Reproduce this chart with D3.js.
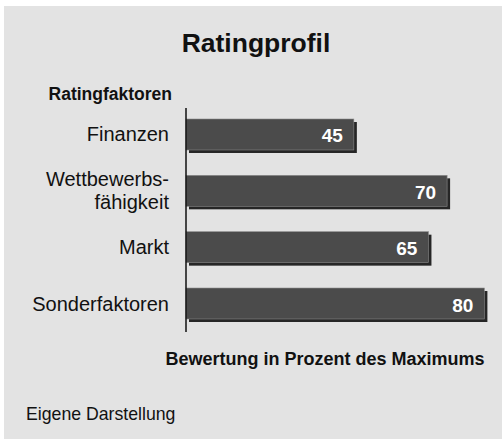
<!DOCTYPE html>
<html><head><meta charset="utf-8">
<script src="https://cdn.jsdelivr.net/npm/d3@7"></script>
<style>
html,body{margin:0;padding:0;background:#fff;}
svg{display:block;font-family:"Liberation Sans",Arial,Helvetica,sans-serif;}
</style></head>
<body>
<svg id="chart" width="502" height="439"></svg>
<script>
const categories = [["Finanzen"], ["Wettbewerbs-", "fähigkeit"], ["Markt"], ["Sonderfaktoren"]];
const categoryKeys = ["Finanzen", "Wettbewerbsfähigkeit", "Markt", "Sonderfaktoren"];
const values = [45, 70, 65, 80];
const title = "Ratingprofil";
const yAxisTitle = "Ratingfaktoren";
const xAxisTitle = "Bewertung in Prozent des Maximums";
const source = "Eigene Darstellung";

const svg = d3.select("#chart");
svg.append("rect").attr("x", 4).attr("y", 6).attr("width", 498).attr("height", 433).attr("fill", "#e3e3e3");

const x = d3.scaleLinear().domain([0, 100]).range([186, 559]);
const y = d3.scaleBand().domain(categoryKeys).range([107, 331]).paddingInner(0.45).paddingOuter(0.213);

svg.append("text").attr("x", 256).attr("y", 52).attr("text-anchor", "middle")
  .attr("font-size", 26.5).attr("font-weight", "bold").attr("fill", "#111").text(title);
svg.append("text").attr("x", 172).attr("y", 100).attr("text-anchor", "end")
  .attr("font-size", 17.5).attr("font-weight", "bold").attr("fill", "#111").text(yAxisTitle);

const g = svg.append("g");
const data = categoryKeys.map((k, i) => ({k, v: values[i], lines: categories[i]}));

// shadows
g.selectAll("rect.shadow").data(data).join("rect").attr("class", "shadow")
  .attr("x", x(0) + 3).attr("y", d => y(d.k) + 3)
  .attr("width", d => x(d.v) - x(0)).attr("height", y.bandwidth())
  .attr("fill", "#262626");
// bars
g.selectAll("rect.bar").data(data).join("rect").attr("class", "bar")
  .attr("x", x(0)).attr("y", d => y(d.k))
  .attr("width", d => x(d.v) - x(0)).attr("height", y.bandwidth())
  .attr("fill", "#4b4b4b").attr("stroke", "#8a8a8a").attr("stroke-width", 0.6);

// value labels
g.selectAll("text.val").data(data).join("text").attr("class", "val")
  .attr("x", d => x(d.v) - 11).attr("y", d => y(d.k) + y.bandwidth() / 2 + 8)
  .attr("text-anchor", "end").attr("font-size", 19).attr("font-weight", "bold")
  .attr("fill", "#fff").text(d => d.v);

// axis line
svg.append("line").attr("x1", x(0)).attr("x2", x(0)).attr("y1", 108).attr("y2", 332)
  .attr("stroke", "#111").attr("stroke-width", 1.5);

// category labels
const lbl = svg.selectAll("text.cat").data(data).join("text").attr("class", "cat")
  .attr("text-anchor", "end").attr("font-size", 20).attr("fill", "#111");
lbl.each(function(d) {
  const n = d.lines.length;
  const cy = y(d.k) + y.bandwidth() / 2;
  d3.select(this).selectAll("tspan").data(d.lines).join("tspan")
    .attr("x", 169)
    .attr("y", (t, i) => cy + 7 + (i - (n - 1) / 2) * 23)
    .text(t => t);
});

svg.append("text").attr("x", 325).attr("y", 365).attr("text-anchor", "middle")
  .attr("font-size", 18).attr("font-weight", "bold").attr("fill", "#111").text(xAxisTitle);
svg.append("text").attr("x", 26).attr("y", 420)
  .attr("font-size", 17.7).attr("fill", "#111").text(source);
</script>
</body></html>
